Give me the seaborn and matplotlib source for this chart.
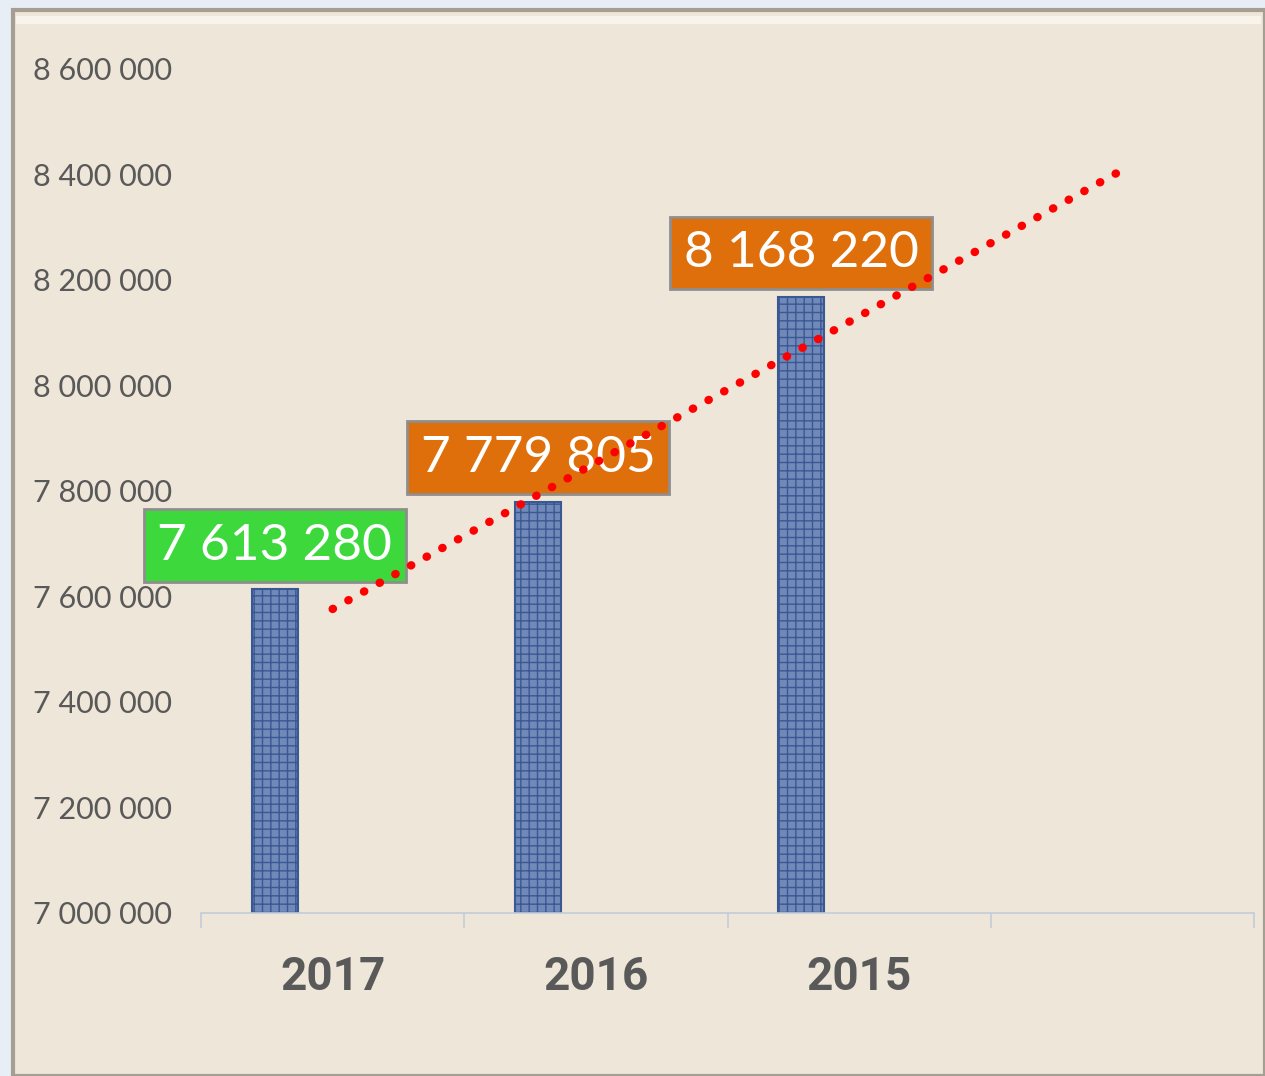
import numpy as np
import pandas as pd
import matplotlib
matplotlib.use("Agg")
import matplotlib.pyplot as plt
import seaborn as sns
from matplotlib.patches import Rectangle

# values
years = ["2017", "2016", "2015", ""]
values = [7613280, 7779805, 8168220, np.nan]
label_colors = ["#3CD83C", "#DF6F0A", "#DF6F0A"]
y_ticks = [7000000, 7200000, 7400000, 7600000, 7800000, 8000000, 8200000, 8400000, 8600000]

df = pd.DataFrame({"year": years, "value": values})

sns.set_theme(style="white")
plt.rcParams["font.family"] = ["Lato", "DejaVu Sans"]

fig = plt.figure(figsize=(12.65, 10.76), dpi=100)
fig.patch.set_facecolor("#E8EEF5")
# beige panel with a soft frame
fig.add_artist(Rectangle((13 / 1265, 0), 1 - 13 / 1265, 1 - 10 / 1076,
                         transform=fig.transFigure, facecolor="#EEE6D8",
                         edgecolor="#A59E93", linewidth=3, zorder=0))
fig.add_artist(Rectangle((16 / 1265, 1 - 24 / 1076), 1 - 20 / 1265, 8 / 1076,
                         transform=fig.transFigure, facecolor="#F8F4EC",
                         edgecolor="none", zorder=0))

ax = fig.add_axes([201 / 1265, 1 - 913 / 1076, 1053 / 1265, 844 / 1076])
ax.set_facecolor("none")

sns.barplot(data=df, x="year", y="value", order=years, width=0.175,
            color="#6485C4", edgecolor="#3A5893", linewidth=1.5,
            hatch="++", ax=ax, zorder=2)
for p in ax.patches:
    p.set_x(p.get_x() - 0.22)

ax.set_ylim(7000000, 8600000)
ax.set_xlim(-0.5, 3.5)
ax.set_yticks(y_ticks)
ax.set_yticklabels([f"{v:,.0f}".replace(",", " ") for v in y_ticks])
ax.tick_params(axis="y", length=0, pad=21, labelsize=22, labelcolor="#595959")
ax.set_xticks(range(len(years)))
ax.set_xticklabels(years, fontfamily="Roboto", fontweight="bold")
ax.tick_params(axis="x", length=0, pad=30, labelsize=33, labelcolor="#595959")
ax.set_xticks(np.arange(-0.5, 4, 1), minor=True)
ax.tick_params(axis="x", which="minor", bottom=True, length=11, width=1.2,
               color="#C3CCD9")
ax.set_xlabel("")
ax.set_ylabel("")
for s in ["top", "right", "left"]:
    ax.spines[s].set_visible(False)
ax.spines["bottom"].set_color("#C3CCD9")
ax.spines["bottom"].set_linewidth(1.2)

# data labels in coloured boxes
for i, v in enumerate(values[:3]):
    ax.annotate(f"{v:,.0f}".replace(",", " "), (i - 0.22, v), xytext=(0, 15),
                textcoords="offset points", ha="center", va="bottom",
                fontsize=37, color="white", zorder=5,
                bbox=dict(boxstyle="square,pad=0.26", fc=label_colors[i],
                          ec="#8E8E8E", lw=2))

# linear trend, extended one period forward
xs = np.arange(3)
coef = np.polyfit(xs, values[:3], 1)
tx = np.array([0, 3])
ax.plot(tx, np.polyval(coef, tx), color="#FF0000", linewidth=6,
        linestyle=(0, (0.05, 2.1)), dash_capstyle="round", zorder=6)

fig.savefig("out.png", dpi=100, facecolor=fig.get_facecolor())
